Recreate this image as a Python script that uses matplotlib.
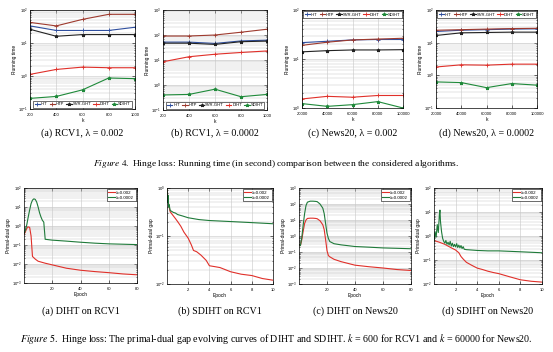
import numpy as np
import matplotlib
matplotlib.use("Agg")
from matplotlib import pyplot as plt

plt.rcParams['font.family'] = ['Liberation Sans', 'DejaVu Sans']
plt.rcParams['mathtext.fontset'] = 'stix'

# ---- Figure 4: running time ----
k_rcv1 = [200, 400, 600, 800, 1000]
k_news = [20000, 40000, 60000, 80000, 100000]
algos = ["IHT", "HTP", "SVR-GHT", "DIHT", "SDIHT"]
colors = ["#2f4f9f", "#9e3a2e", "#222222", "#e0302a", "#1f8a3a"]
markers = ["+", "+", "*", "+", "*"]

time_rcv1_002 = {
    "IHT": [33, 24, 24, 24, 30],
    "HTP": [42, 33, 52, 74, 74],
    "SVR-GHT": [26, 16, 18, 18, 18],
    "DIHT": [1.12, 1.58, 1.86, 1.78, 1.78],
    "SDIHT": [0.21, 0.24, 0.38, 0.87, 0.83],
}
time_rcv1_0002 = {
    "IHT": [52, 52, 46, 58, 62],
    "HTP": [91, 91, 100, 129, 170],
    "SVR-GHT": [47, 47, 42, 54, 57],
    "DIHT": [8.5, 13.5, 17, 20, 23],
    "SDIHT": [0.40, 0.42, 0.68, 0.34, 0.42],
}
time_news_002 = {
    "IHT": [21.6, 23, 24.5, 25, 25],
    "HTP": [19, 22, 24.5, 25.5, 26.5],
    "SVR-GHT": [14, 14.8, 15.3, 15.3, 15.5],
    "DIHT": [1.53, 1.73, 1.66, 1.8, 1.8],
    "SDIHT": [1.23, 1.08, 1.17, 1.35, 1.0],
}
time_news_0002 = {
    "IHT": [22, 24, 25, 26, 26.5],
    "HTP": [24, 25, 26, 27, 27.5],
    "SVR-GHT": [16.6, 20, 20.5, 21, 21],
    "DIHT": [1.8, 2.1, 2.05, 2.2, 2.2],
    "SDIHT": [0.63, 0.60, 0.42, 0.56, 0.50],
}

# ---- Figure 5: primal-dual gap ----
ep_diht_rcv1_a = [0, 1, 2, 3, 4, 5, 6, 8, 10, 15, 20, 30, 40, 50, 60, 70, 80]
gap_diht_rcv1_a = [0.35, 0.5, 0.75, 0.9, 0.85, 0.3, 0.025, 0.018, 0.014,
                   0.011, 0.009, 0.006, 0.0047, 0.004, 0.0035, 0.003, 0.0027]
ep_diht_rcv1_b = [0, 1, 2, 3, 4, 5, 6, 7, 8, 9, 10, 11, 12, 13, 14, 15,
                  20, 30, 40, 50, 60, 70, 80]
gap_diht_rcv1_b = [0.4, 0.6, 1.2, 3.0, 7, 15, 23, 27, 25, 18, 10, 5, 3, 2,
                   1.6, 0.2, 0.18, 0.16, 0.14, 0.125, 0.115, 0.11, 0.105]

ep_sdiht_rcv1_a = [0, 0.1, 0.2, 0.3, 0.5, 0.8, 1.0, 1.3, 1.6, 2.0, 2.3,
                   2.5, 2.8, 3.2, 3.7, 4.0, 4.5, 5, 6, 7, 8, 9, 10]
gap_sdiht_rcv1_a = [1.0, 0.55, 0.4, 0.32, 0.28, 0.23, 0.2, 0.16, 0.12,
                    0.09, 0.065, 0.05, 0.047, 0.04, 0.031, 0.024, 0.023,
                    0.022, 0.018, 0.016, 0.015, 0.013, 0.012]
ep_sdiht_rcv1_b = [0, 0.05, 0.1, 0.15, 0.2, 0.3, 0.4, 0.6, 0.8, 1.0, 1.5,
                   2, 3, 4, 5, 6, 7, 8, 9, 10]
gap_sdiht_rcv1_b = [1.0, 0.5, 0.7, 0.4, 0.45, 0.34, 0.33, 0.31, 0.3, 0.28,
                    0.26, 0.24, 0.22, 0.21, 0.205, 0.2, 0.195, 0.19, 0.185,
                    0.18]

ep_diht_news_a = [0, 1, 2, 3, 4, 5, 6, 8, 10, 12, 13, 15, 17, 18, 19, 20,
                  21, 22, 25, 30, 40, 50, 60, 70, 80]
gap_diht_news_a = [0.3, 0.25, 0.6, 2.0, 6, 10, 12.5, 13, 13, 12.5, 12, 9,
                   5, 2.5, 0.6, 0.12, 0.06, 0.05, 0.035, 0.025, 0.015,
                   0.012, 0.01, 0.008, 0.007]
ep_diht_news_b = [0, 1, 2, 3, 4, 5, 6, 8, 10, 12, 13, 15, 17, 18, 19, 20,
                  21, 22, 25, 30, 40, 50, 60, 70, 80]
gap_diht_news_b = [0.3, 0.25, 0.8, 5, 25, 80, 130, 150, 150, 145, 140, 100,
                   55, 25, 6, 1.5, 0.7, 0.45, 0.33, 0.28, 0.22, 0.2, 0.18,
                   0.17, 0.16]

ep_sdiht_news_a = [0, 0.5, 1.0, 1.5, 2.0, 2.3, 2.5, 2.7, 3.0, 3.5, 4.0,
                   4.5, 5, 5.5, 6, 7, 8, 9, 10]
gap_sdiht_news_a = [0.65, 0.55, 0.45, 0.34, 0.26, 0.2, 0.14, 0.11, 0.08,
                    0.06, 0.046, 0.04, 0.034, 0.03, 0.027, 0.02, 0.015,
                    0.013, 0.012]
ep_sdiht_news_b = [0, 0.1, 0.2, 0.3, 0.4, 0.5, 0.55, 0.6, 0.7, 0.8, 0.9,
                   1.0, 1.1, 1.2, 1.3, 1.4, 1.5, 1.6, 1.7, 1.8, 1.9, 2.0,
                   2.1, 2.2, 2.3, 2.4, 2.5, 2.6, 2.7, 2.8, 3.0, 3.5, 4,
                   5, 6, 7, 8, 9, 10]
gap_sdiht_news_b = [0.6, 1.5, 0.9, 3.0, 1.4, 8, 12, 4, 1.5, 0.8, 0.6,
                    0.5, 0.65, 0.45, 0.55, 0.42, 0.6, 0.38, 0.5, 0.36,
                    0.45, 0.35, 0.48, 0.33, 0.42, 0.32, 0.4, 0.3, 0.36,
                    0.28, 0.27, 0.26, 0.25, 0.24, 0.24, 0.23, 0.22, 0.21,
                    0.2]

W, H = 553, 352
fig = plt.figure(figsize=(W / 100, H / 100), dpi=100)


def box(l, r, t, b):
    return [l / W, 1 - b / H, (r - l) / W, (b - t) / H]


def style(ax):
    ax.set_yscale("log")
    ax.grid(True, which="major", color="0.78", lw=0.4)
    ax.grid(True, which="minor", axis="y", color="0.78", lw=0.35)
    ax.tick_params(which="both", direction="in", labelsize=3.0, pad=1.5,
                   top=True, right=True, width=0.4)
    ax.tick_params(axis="x", pad=3.2)
    ax.tick_params(which="major", length=2)
    ax.tick_params(which="minor", length=1)
    for s in ax.spines.values():
        s.set_linewidth(0.5)


top_boxes = [(30, 135, 10, 109), (163, 267, 10, 110),
             (302, 403, 10, 108), (436, 537, 10, 108)]
top_data = [(k_rcv1, time_rcv1_002, (0.1, 100), "lower center"),
            (k_rcv1, time_rcv1_0002, (0.1, 1000), "lower center"),
            (k_news, time_news_002, (1, 100), "upper center"),
            (k_news, time_news_0002, (0.1, 100), "upper center")]
top_caps = ["(a) RCV1, λ = 0.002", "(b) RCV1, λ = 0.0002",
            "(c) News20, λ = 0.002", "(d) News20, λ = 0.0002"]

for bx, (kk, times, ylim, loc), cap in zip(top_boxes, top_data, top_caps):
    ax = fig.add_axes(box(*bx))
    for name, c, m in zip(algos, colors, markers):
        ax.plot(kk, times[name], color=c, marker=m, ms=2.5, mew=0.6,
                lw=0.8, label=name)
    style(ax)
    ax.set_xlim(kk[0], kk[-1])
    ax.set_xticks(kk)
    ax.set_ylim(*ylim)
    ax.set_xlabel("k", fontsize=3.5, labelpad=0.5)
    ax.set_ylabel("Running time", fontsize=3.5, labelpad=1)
    ax.legend(loc=loc, ncol=5, fontsize=3.0, handlelength=1.3,
              columnspacing=0.5, handletextpad=0.2, borderpad=0.3,
              borderaxespad=0.3, fancybox=False, edgecolor="black",
              framealpha=1).get_frame().set_linewidth(0.4)
    fig.text((bx[0] + bx[1]) / 2 / W, 1 - 133 / H, cap, ha="center",
             va="center", family="Liberation Serif", fontsize=7.2)

fig.text(0.5, 1 - 164 / H,
         r"$\it{Figure\ 4.}$ Hinge loss: Running time (in second) comparison "
         "between the considered algorithms.",
         ha="center", va="center", family="Liberation Serif", fontsize=6.8)

bot_boxes = [(24, 137, 188, 283), (167, 273, 188, 284),
             (299, 411, 188, 284), (434, 542, 188, 284)]
bot_data = [(ep_diht_rcv1_a, gap_diht_rcv1_a, ep_diht_rcv1_b,
             gap_diht_rcv1_b, (0, 80), (1e-3, 1e2), [20, 40, 60, 80]),
            (ep_sdiht_rcv1_a, gap_sdiht_rcv1_a, ep_sdiht_rcv1_b,
             gap_sdiht_rcv1_b, (0, 10), (1e-2, 1e0), [2, 4, 6, 8, 10]),
            (ep_diht_news_a, gap_diht_news_a, ep_diht_news_b,
             gap_diht_news_b, (0, 80), (1e-3, 1e3), [20, 40, 60, 80]),
            (ep_sdiht_news_a, gap_sdiht_news_a, ep_sdiht_news_b,
             gap_sdiht_news_b, (0, 10), (1e-2, 1e2), [2, 4, 6, 8, 10])]
bot_caps = ["(a) DIHT on RCV1", "(b) SDIHT on RCV1",
            "(c) DIHT on News20", "(d) SDIHT on News20"]

for bx, (xa, ya, xb, yb, xl, yl, xt), cap in zip(bot_boxes, bot_data,
                                                 bot_caps):
    ax = fig.add_axes(box(*bx))
    ax.plot(xa, ya, color="#e0302a", lw=0.8, label="λ=0.002")
    ax.plot(xb, yb, color="#1f7a3a", lw=0.8, label="λ=0.0002")
    style(ax)
    ax.set_xlim(*xl)
    ax.set_xticks(xt)
    ax.set_ylim(*yl)
    ax.set_xlabel("Epoch", fontsize=3.5, labelpad=0.5)
    ax.set_ylabel("Primal-dual gap", fontsize=3.5, labelpad=1)
    ax.legend(loc="upper right", fontsize=3.2, handlelength=1.6,
              handletextpad=0.3, borderpad=0.3, borderaxespad=0.3,
              labelspacing=0.2, fancybox=False, edgecolor="black",
              framealpha=1).get_frame().set_linewidth(0.4)
    fig.text((bx[0] + bx[1]) / 2 / W, 1 - 311 / H, cap, ha="center",
             va="center", family="Liberation Serif", fontsize=7.2)

fig.text(0.5, 1 - 339 / H,
         r"$\it{Figure\ 5.}$ Hinge loss: The primal-dual gap evolving curves "
         r"of DIHT and SDIHT. $k$ = 600 for RCV1 and $k$ = 60000 for News20.",
         ha="center", va="center", family="Liberation Serif", fontsize=7.2)

plt.savefig("out.png", dpi=100)
